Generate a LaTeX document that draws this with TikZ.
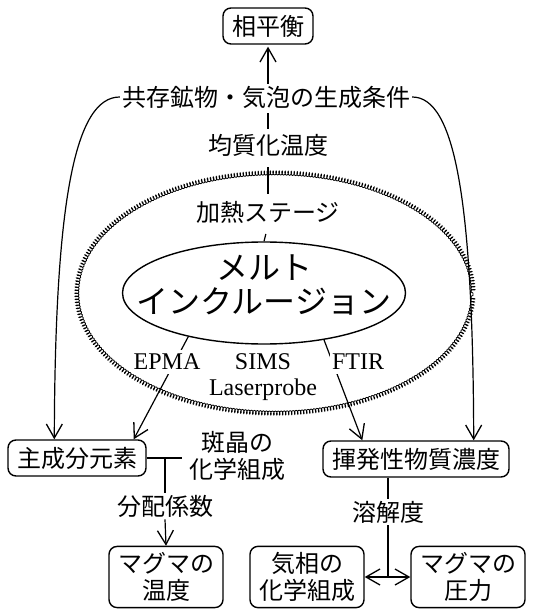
\documentclass[tikz,border=0pt]{standalone}
\usepackage{fontspec}
\setmainfont{Liberation Serif}
\newfontfamily\jp{Noto Sans CJK JP}
\usetikzlibrary{arrows.meta,decorations.pathmorphing,shapes.geometric}
\begin{document}
\begin{tikzpicture}[x=1pt,y=-1pt,
  box/.style={draw, rounded corners=8pt, line width=1.4pt, inner xsep=9pt, inner ysep=6pt,
    font=\jp\fontsize{24}{27}\selectfont, align=center},
  lbl/.style={font=\jp\fontsize{24}{27}\selectfont, inner sep=2pt, align=center},
  lat/.style={font=\fontsize{24}{26}\selectfont, inner xsep=2pt, inner ysep=4pt, fill=white},
  ln/.style={line width=1.2pt},
  arr/.style={ln, -{Straight Barb[length=14pt,width=16pt,line width=1.3pt]}},
  darr/.style={ln, {Straight Barb[length=14pt,width=16pt,line width=1.3pt]}-{Straight Barb[length=14pt,width=16pt,line width=1.3pt]}},
  wavy/.style={line width=0.8pt, decorate, decoration={coil, aspect=0.5, amplitude=2pt, segment length=3pt}}
]
\useasboundingbox (0,0) rectangle (539,609);

% nodes
\node[box, minimum height=36pt] (eq) at (268,26) {相平衡};
\node[lbl] (cond) at (266,97) {共存鉱物・気泡の生成条件};
\node[lbl] (homog) at (268,145) {均質化温度};
\draw[wavy] (275,293) ellipse [x radius=198pt, y radius=120pt];
\node[lbl] (stage) at (268,212) {加熱ステージ};
\node[ellipse, draw, line width=1.4pt, minimum width=283pt, minimum height=102pt, inner sep=0pt] (melt) at (264,293) {};
\node[font=\jp\fontsize{32}{34}\selectfont, align=center, inner sep=0pt] (melttext) at (264,285) {メルト\\インクルージョン};

\node[box, minimum height=36pt] (main) at (77,458) {主成分元素};
\node[box, minimum height=36pt] (vol) at (416,459) {揮発性物質濃度};
\node[lbl, inner xsep=7pt] (phen) at (237,456) {斑晶の\\化学組成};
\node[lbl] (dist) at (165,506) {分配係数};
\node[lbl] (sol) at (388,512) {溶解度};
\node[box] (temp) at (166,577) {マグマの\\温度};
\node[box] (gas) at (307,577) {気相の\\化学組成};
\node[box] (press) at (468,577) {マグマの\\圧力};

% connectors
\draw[arr, shorten >=2pt] (cond.north -| eq.south) -- (eq.south);
\draw[ln, shorten <=3pt, shorten >=3pt] (homog.north |- cond.south) -- (homog.north);
\draw[ln, shorten <=9pt, shorten >=5pt] (homog.south) -- (stage.north);
\draw[ln, shorten <=9pt] (stage.south) -- (melt.north);

\draw[arr] (cond.west) .. controls (75,97) and (55,200) .. ([xshift=47pt]main.north west);
\draw[arr] (cond.east) .. controls (455,97) and (473,200) .. ([xshift=-36pt]vol.north east);

\draw[arr] (melt.210) -- ([xshift=-13pt]main.north east);
\draw[arr] (melt.322) -- ([xshift=40pt]vol.north west);

\node[lat] (epma) at (167,362) {EPMA};
\node[lat] (sims) at (263,362) {SIMS};
\node[lat] (ftir) at (358,362) {FTIR};
\node[lat, fill=none] (laser) at (263,390) {Laserprobe};

\draw[ln] (main.east) -- (main.east -| phen.west);
\draw[ln] (dist.north |- main.east) -- (dist.north);
\draw[arr] (dist.south) -- (temp.north);

\draw[ln] (sol.north |- vol.south) -- (sol.north);
\draw[ln] (sol.south) -- (sol.south |- gas.east);
\draw[darr] (gas.east) -- (press.west);
\end{tikzpicture}
\end{document}
